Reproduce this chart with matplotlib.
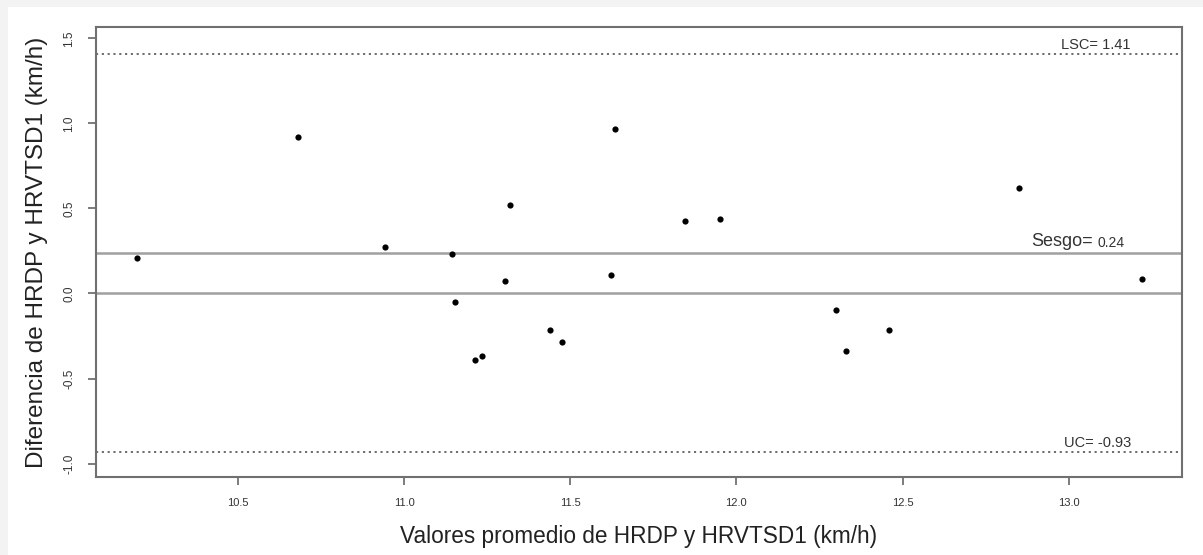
import matplotlib
matplotlib.use("Agg")
import matplotlib.pyplot as plt
from matplotlib.patches import Rectangle

plt.rcParams['font.family'] = ['Liberation Sans', 'DejaVu Sans']

# Data
promedio = [10.195, 10.680, 10.942, 11.145, 11.154, 11.214, 11.234, 11.305, 11.319, 11.440,
            11.475, 11.624, 11.634, 11.845, 11.950, 12.299, 12.330, 12.459, 12.850, 13.220]
diferencia = [0.21, 0.919, 0.272, 0.232, -0.048, -0.389, -0.368, 0.074, 0.519, -0.215,
              -0.287, 0.109, 0.969, 0.428, 0.438, -0.099, -0.336, -0.215, 0.622, 0.084]
sesgo = 0.24
lsc = 1.41
lic = -0.93
xticks = [10.5, 11.0, 11.5, 12.0, 12.5, 13.0]
yticks = [-1.0, -0.5, 0.0, 0.5, 1.0, 1.5]

W, H = 1203, 555
fig = plt.figure(figsize=(W / 100, H / 100), dpi=100)
fig.patch.set_facecolor('#f3f3f3')
fig.patches.append(Rectangle((8 / W, 0), 1, 1 - 7 / H, transform=fig.transFigure,
                             facecolor='white', edgecolor='none', zorder=-10))

ax = fig.add_axes([96 / W, (H - 477) / H, (1182 - 96) / W, 450 / H])
ax.set_zorder(5)
ax.set_facecolor('white')

ax.axhline(0.0, color='#a0a0a0', lw=1.8, zorder=1)
ax.axhline(sesgo, color='#a0a0a0', lw=1.8, zorder=1)
ax.axhline(lsc, color='#444444', lw=1.1, linestyle=(0, (1.4, 2.4)), zorder=1)
ax.axhline(lic, color='#444444', lw=1.1, linestyle=(0, (1.4, 2.4)), zorder=1)

ax.scatter(promedio, diferencia, s=20, color='black', zorder=3, linewidths=0)

ax.set_xlim(10.073, 13.341)
ax.set_ylim(-1.079, 1.567)

ax.set_xticks(xticks)
ax.set_xticklabels([f"{t:.1f}" for t in xticks], fontsize=8, color='#333333')
ax.set_yticks(yticks)
ax.set_yticklabels([f"{t:.1f}" for t in yticks], fontsize=8.5, color='#333333',
                   rotation=90, va='center')
ax.tick_params(axis='both', length=6, width=1.2, color='#666666', pad=9)

for sp in ax.spines.values():
    sp.set_color('#707070')
    sp.set_linewidth(1.5)

ax.set_xlabel('Valores promedio de HRDP y HRVTSD1 (km/h)', fontsize=16.3, color='#222222',
              labelpad=12)
ax.set_ylabel('Diferencia de HRDP y HRVTSD1 (km/h)', fontsize=17.5, color='#222222',
              labelpad=11)

ax.text(13.081, lsc + 0.012, 'LSC= 1.41', fontsize=10.5, ha='center', va='bottom', color='#333333')
ax.text(13.072, sesgo + 0.015, 'Sesgo=', fontsize=13, ha='right', va='bottom', color='#333333')
ax.text(13.087, sesgo + 0.015, '0.24', fontsize=10, ha='left', va='bottom', color='#333333')
ax.text(13.086, lic + 0.012, 'UC= -0.93', fontsize=10.5, ha='center', va='bottom', color='#333333')

fig.savefig('out.png', dpi=100, facecolor=fig.get_facecolor())
